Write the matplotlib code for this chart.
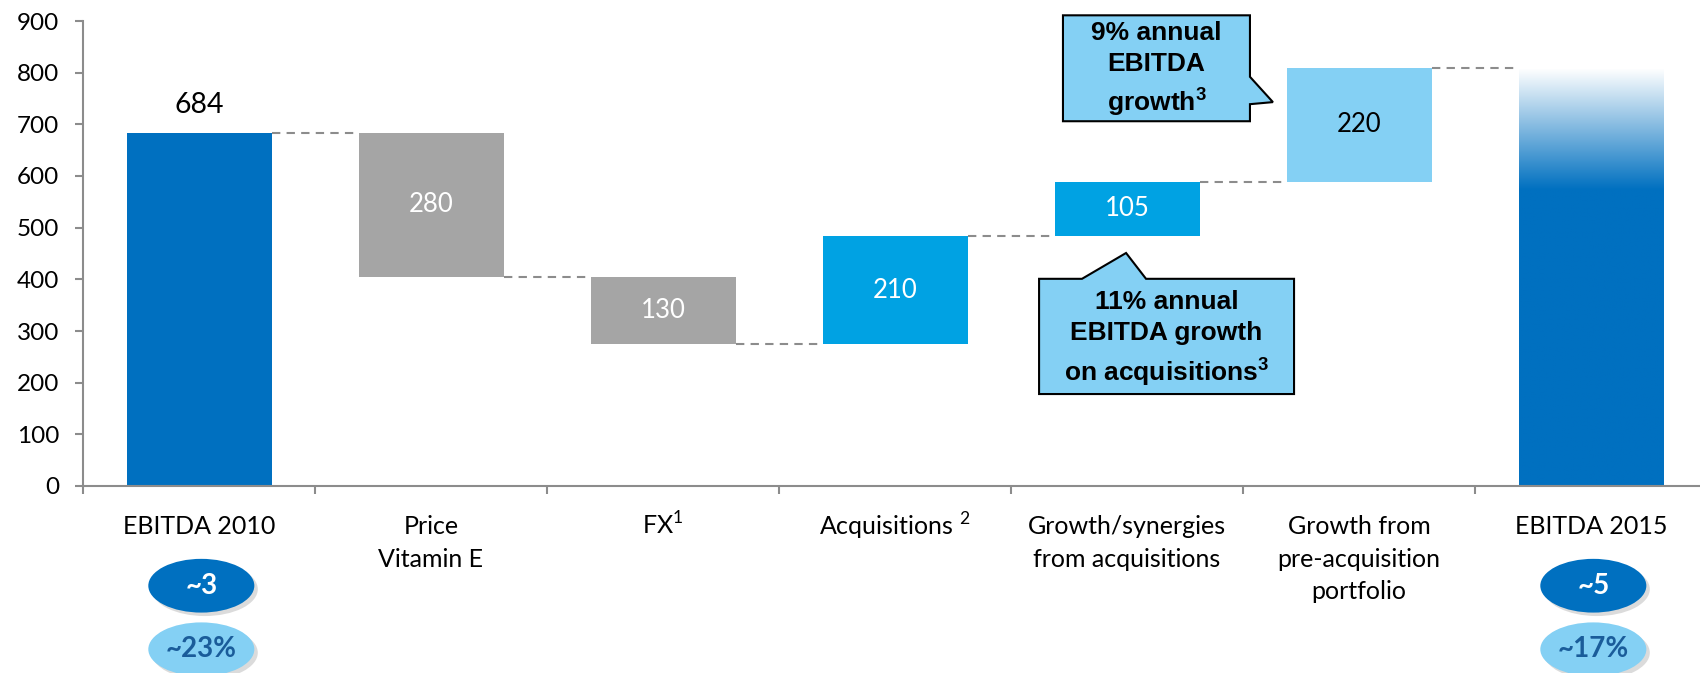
import matplotlib.pyplot as plt
import matplotlib.patches as mpatches
import matplotlib.patheffects as pe
from matplotlib.colors import to_rgb
from matplotlib.transforms import ScaledTranslation
import numpy as np

plt.rcParams['font.family'] = ['Lato', 'DejaVu Sans']
plt.rcParams['mathtext.fontset'] = 'custom'
plt.rcParams['mathtext.rm'] = 'Lato'
plt.rcParams['mathtext.bf'] = 'Liberation Sans:bold'

# EBITDA bridge 2010 -> 2015 (EUR m)
categories = ['EBITDA 2010', 'Price\nVitamin E', r'FX$^{\mathrm{1}}$',
              r'Acquisitions $^{\mathrm{2}}$',
              'Growth/synergies\nfrom acquisitions',
              'Growth from\npre-acquisition\nportfolio', 'EBITDA 2015']
start_value = 684
changes = [-280, -130, 210, 105, 220]
change_colors = ['#A5A5A5', '#A5A5A5', '#00A2E3', '#00A2E3', '#84D0F4']
change_text = ['white', 'white', 'white', 'white', 'black']
multiples = ['~3', '~5']
margins = ['~23%', '~17%']
yticks = [0, 100, 200, 300, 400, 500, 600, 700, 800, 900]

callout_top = '9% annual\nEBITDA\n' + r'growth$^{\mathbf{3}}$'
callout_bottom = '11% annual\nEBITDA growth\n' + r'on acquisitions$^{\mathbf{3}}$'

dark_blue = '#0070C0'
light_blue = '#84D0F4'
grey_line = '#8C8C8C'
w = 0.625

levels = np.cumsum([start_value] + changes)
total = levels[-1]

fig = plt.figure(figsize=(17, 6.73), dpi=100)
ax = fig.add_axes([83 / 1700, 187 / 673, 1624 / 1700, 465 / 673])

# starting bar
ax.bar(0, start_value, width=w, color=dark_blue, zorder=2)
ax.text(0, start_value + 53, str(start_value), ha='center', va='center',
        fontsize=20.5, color='black')

# floating change bars
for i, ch in enumerate(changes):
    x = i + 1
    bottom = min(levels[i], levels[i + 1])
    ax.bar(x, abs(ch), bottom=bottom, width=w, color=change_colors[i], zorder=2)
    ax.text(x, bottom + abs(ch) / 2, str(abs(ch)), ha='center', va='center',
            fontsize=18.5, color=change_text[i], zorder=3)

# final bar fades out towards the top
n = 400
frac = np.linspace(0, 1, n)
fade_start = 0.71
mix = np.clip((frac - fade_start) / (1 - fade_start), 0, 1)[:, None]
base = np.array(to_rgb(dark_blue))
grad = base * (1 - mix) + np.ones(3) * mix
ax.imshow(grad[:, None, :], extent=(6 - w / 2, 6 + w / 2, 0, total),
          origin='lower', aspect='auto', zorder=2, interpolation='bilinear')

# dashed connectors between bars
for i, lv in enumerate(levels):
    ax.plot([i + w / 2, i + 1 - w / 2], [lv, lv], color=grey_line, lw=1.5,
            dashes=(4, 3), zorder=1)

ax.set_xlim(-0.5, 6.5)
ax.set_ylim(0, 900)

for s in ['top', 'right']:
    ax.spines[s].set_visible(False)
for s in ['left', 'bottom']:
    ax.spines[s].set_color('#8C8C8C')
    ax.spines[s].set_linewidth(1.5)

ax.set_yticks(yticks)
ax.tick_params(axis='y', length=6, width=1.5, color='#8C8C8C', pad=11,
               labelsize=17.5)
ax.set_xticks(range(len(categories)))
ax.set_xticklabels(categories, linespacing=1.5)
ax.set_xticks(np.arange(-0.5, len(categories), 1), minor=True)
ax.tick_params(axis='x', which='major', length=0, pad=21, labelsize=18)
ax.tick_params(axis='x', which='minor', length=6, width=1.5, color='#8C8C8C')

# labels with superscripts sit a little lower; lift them back in line
for lbl in ax.get_xticklabels():
    if '$' in lbl.get_text():
        lbl.set_transform(lbl.get_transform() +
                          ScaledTranslation(0, 3 / 72, fig.dpi_scale_trans))

# speech-bubble callouts
bubble_font = dict(family=['Liberation Sans', 'DejaVu Sans'], weight='bold',
                   fontsize=19, ha='center', va='center', linespacing=1.38)

top_pts = [(3.724, 911), (4.530, 911), (4.530, 792), (4.629, 743),
           (4.530, 739), (4.530, 706), (3.724, 706)]
ax.add_patch(mpatches.Polygon(top_pts, closed=True, facecolor=light_blue,
                              edgecolor='black', lw=1.5, clip_on=False,
                              zorder=4))
ax.text((3.724 + 4.530) / 2, 806, callout_top, zorder=5, **bubble_font)

bot_pts = [(3.621, 178), (3.621, 401), (3.806, 401), (3.996, 451),
           (4.082, 401), (4.720, 401), (4.720, 178)]
ax.add_patch(mpatches.Polygon(bot_pts, closed=True, facecolor=light_blue,
                              edgecolor='black', lw=1.5, clip_on=False,
                              zorder=4))
ax.text((3.621 + 4.720) / 2, 285, callout_bottom, zorder=5, **bubble_font)

# multiple / margin ovals under the EBITDA bars
shadow = [pe.SimplePatchShadow(offset=(2.5, -2.5), shadow_rgbFace='#9A9A9A',
                               alpha=0.35), pe.Normal()]
for x, mult, marg in zip([0, 6], multiples, margins):
    e1 = mpatches.Ellipse((x + 0.01, -193), 0.457, 104, facecolor=dark_blue,
                          edgecolor='none', clip_on=False, zorder=4,
                          path_effects=shadow)
    ax.add_patch(e1)
    ax.text(x + 0.01, -193, mult, ha='center', va='center', fontsize=20,
            weight='bold', color='white', clip_on=False, zorder=5)
    e2 = mpatches.Ellipse((x + 0.01, -316), 0.457, 104, facecolor=light_blue,
                          edgecolor='none', clip_on=False, zorder=4,
                          path_effects=shadow)
    ax.add_patch(e2)
    ax.text(x + 0.01, -316, marg, ha='center', va='center', fontsize=20,
            weight='bold', color='#1A5C9A', clip_on=False, zorder=5)

fig.savefig('out.png', dpi=100)
